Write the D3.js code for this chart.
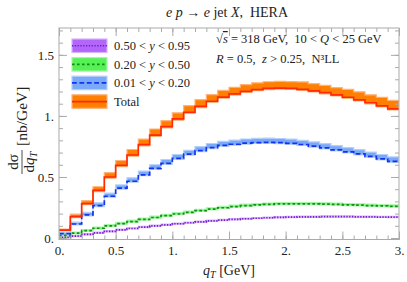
<!DOCTYPE html>
<html>
<head>
<meta charset="utf-8">
<script src="https://cdn.jsdelivr.net/npm/d3@7"></script>
<style>
  body { margin: 0; background: #fff; }
  svg { display: block; }
  text { font-family: "Liberation Serif", "DejaVu Serif", serif; fill: #222; white-space: pre; }
</style>
</head>
<body>
<div id="chart"></div>
<script>
// lower edges of the q_T bins (GeV), last bin ends at 3.0
var qtBins = [0, 0.1, 0.2, 0.3, 0.4, 0.5, 0.6, 0.7, 0.8, 0.9, 1.0, 1.1, 1.2, 1.3, 1.4,
              1.5, 1.6, 1.7, 1.8, 1.9, 2.0, 2.1, 2.2, 2.3, 2.4, 2.5, 2.6, 2.7, 2.8, 2.9];
var qtEnd = 3.0;

// 0.50 < y < 0.95
var purpleVal = [0.006, 0.015, 0.03, 0.042, 0.055, 0.067, 0.078, 0.089, 0.099, 0.108, 0.117, 0.125, 0.133, 0.14, 0.147,
                 0.153, 0.158, 0.162, 0.166, 0.169, 0.171, 0.173, 0.174, 0.175, 0.175, 0.175, 0.174, 0.173, 0.172, 0.171];
var purpleHi  = [0.011, 0.021, 0.036, 0.048, 0.061, 0.073, 0.084, 0.095, 0.105, 0.114, 0.123, 0.131, 0.139, 0.146, 0.153,
                 0.159, 0.164, 0.168, 0.172, 0.175, 0.177, 0.179, 0.18, 0.181, 0.181, 0.181, 0.18, 0.179, 0.178, 0.177];
var purpleLo  = [0.002, 0.011, 0.026, 0.038, 0.051, 0.063, 0.074, 0.085, 0.095, 0.104, 0.113, 0.121, 0.129, 0.136, 0.143,
                 0.149, 0.154, 0.158, 0.162, 0.165, 0.167, 0.169, 0.17, 0.171, 0.171, 0.171, 0.17, 0.169, 0.168, 0.167];

// 0.20 < y < 0.50
var greenVal = [0.022, 0.04, 0.06, 0.08, 0.1, 0.118, 0.135, 0.152, 0.168, 0.183, 0.197, 0.21, 0.224, 0.236, 0.248,
                0.258, 0.266, 0.272, 0.276, 0.279, 0.28, 0.28, 0.279, 0.277, 0.275, 0.272, 0.269, 0.266, 0.263, 0.26];
var greenHi  = [0.028, 0.048, 0.069, 0.09, 0.11, 0.129, 0.146, 0.163, 0.179, 0.194, 0.208, 0.221, 0.235, 0.247, 0.259,
                0.269, 0.277, 0.283, 0.287, 0.29, 0.291, 0.291, 0.29, 0.288, 0.286, 0.283, 0.28, 0.277, 0.274, 0.271];
var greenLo  = [0.016, 0.034, 0.054, 0.074, 0.094, 0.112, 0.129, 0.146, 0.162, 0.177, 0.191, 0.204, 0.218, 0.23, 0.242,
                0.252, 0.26, 0.266, 0.27, 0.273, 0.274, 0.274, 0.273, 0.271, 0.269, 0.266, 0.263, 0.26, 0.257, 0.254];

// 0.01 < y < 0.20
var blueVal = [0.036, 0.115, 0.19, 0.265, 0.342, 0.408, 0.465, 0.518, 0.57, 0.612, 0.652, 0.687, 0.716, 0.741, 0.758,
               0.768, 0.777, 0.782, 0.784, 0.781, 0.776, 0.766, 0.752, 0.738, 0.722, 0.706, 0.689, 0.668, 0.648, 0.628];
var blueHi  = [0.044, 0.13, 0.21, 0.288, 0.367, 0.435, 0.493, 0.548, 0.6, 0.643, 0.684, 0.719, 0.749, 0.774, 0.791,
               0.802, 0.811, 0.816, 0.818, 0.815, 0.81, 0.8, 0.787, 0.773, 0.757, 0.741, 0.724, 0.704, 0.684, 0.664];
var blueLo  = [0.028, 0.107, 0.182, 0.257, 0.334, 0.4, 0.457, 0.51, 0.562, 0.604, 0.644, 0.679, 0.708, 0.733, 0.75,
               0.76, 0.769, 0.774, 0.776, 0.773, 0.768, 0.758, 0.744, 0.73, 0.714, 0.698, 0.681, 0.66, 0.64, 0.62];

// Total
var totalVal = [0.064, 0.175, 0.282, 0.39, 0.5, 0.595, 0.68, 0.765, 0.843, 0.912, 0.975, 1.03, 1.078, 1.12, 1.154,
                1.18, 1.201, 1.216, 1.225, 1.228, 1.226, 1.218, 1.205, 1.19, 1.172, 1.153, 1.132, 1.108, 1.083, 1.058];
var totalHi  = [0.074, 0.195, 0.307, 0.42, 0.535, 0.635, 0.725, 0.81, 0.893, 0.962, 1.025, 1.085, 1.133, 1.175, 1.209,
                1.235, 1.256, 1.271, 1.28, 1.283, 1.281, 1.278, 1.265, 1.25, 1.232, 1.218, 1.197, 1.173, 1.153, 1.128];
var totalLo  = [0.058, 0.167, 0.273, 0.38, 0.49, 0.585, 0.67, 0.755, 0.833, 0.902, 0.965, 1.02, 1.068, 1.11, 1.145,
                1.171, 1.192, 1.207, 1.216, 1.219, 1.217, 1.209, 1.196, 1.181, 1.163, 1.144, 1.123, 1.099, 1.074, 1.049];

var xMajor = [0, 0.5, 1, 1.5, 2, 2.5, 3];
var yMajor = [0, 0.5, 1, 1.5];

(function () {
    "use strict";

    var width = 407, height = 282;
    var plotLeft = 59, plotRight = 399, plotTop = 28, plotBottom = 239.5;

    var svg = d3.select('#chart').append('svg')
        .attr('width', width)
        .attr('height', height);

    var x = d3.scaleLinear().domain([0, 3]).range([plotLeft, plotRight]);
    var y = d3.scaleLinear().domain([-0.012, 1.72]).range([plotBottom, plotTop]);

    svg.append('defs').append('clipPath').attr('id', 'plotclip')
        .append('rect')
        .attr('x', plotLeft).attr('y', plotTop)
        .attr('width', plotRight - plotLeft).attr('height', plotBottom - plotTop);

    /** turn a list of bin values into step points, closing at the last edge */
    function steps(vals) {
        var pts = qtBins.map(function (q, i) { return [q, vals[i]]; });
        pts.push([qtEnd, vals[vals.length - 1]]);
        return pts;
    }

    var series = [
        { val: purpleVal, hi: purpleHi, lo: purpleLo, fill: '#b266fa', edge: '#d9b3fc', line: '#7518cc', dash: '1.3,1.5', lw: 1.7 },
        { val: greenVal,  hi: greenHi,  lo: greenLo,  fill: '#55f255', edge: '#a5f8a5', line: '#138c18', dash: '2.6,2.4', lw: 1.7 },
        { val: blueVal,   hi: blueHi,   lo: blueLo,   fill: '#7aa9f8', edge: '#b5d0fb', line: '#1234f2', dash: '4.8,2.6', lw: 1.7 },
        { val: totalVal,  hi: totalHi,  lo: totalLo,  fill: '#ff8000', edge: '#ffb27a', line: '#ff2a00', dash: null,      lw: 1.7 }
    ];

    var area = d3.area()
        .x(function (d) { return x(d[0]); })
        .y0(function (d) { return y(d[1]); })
        .y1(function (d) { return y(d[2]); })
        .curve(d3.curveStepAfter);

    var line = d3.line()
        .x(function (d) { return x(d[0]); })
        .y(function (d) { return y(d[1]); })
        .curve(d3.curveStepAfter);

    var plot = svg.append('g').attr('clip-path', 'url(#plotclip)');

    // bands first, then central lines on top
    series.forEach(function (s) {
        var lo = steps(s.lo), hi = steps(s.hi);
        var band = lo.map(function (p, i) { return [p[0], p[1], hi[i][1]]; });
        plot.append('path')
            .attr('d', area(band))
            .attr('fill', s.fill)
            .attr('stroke', s.edge)
            .attr('stroke-width', 1.2);
    });
    series.forEach(function (s) {
        plot.append('path')
            .attr('d', line(steps(s.val)))
            .attr('fill', 'none')
            .attr('stroke', s.line)
            .attr('stroke-width', s.lw)
            .attr('stroke-dasharray', s.dash);
    });

    // frame and ticks on all four sides (ticks point inward)
    var frameColor = '#aaaaaa';
    var xMinor = d3.range(0, 31).map(function (i) { return i / 10; });
    var yMinor = d3.range(0, 18).map(function (i) { return i / 10; })
        .filter(function (v) { return y(v) > plotTop; });

    function fmt(d) { return Number.isInteger(d) ? d + '.' : String(d); }

    function tickAxis(axis, tr, vals, size, labels) {
        var g = svg.append('g')
            .attr('transform', tr)
            .call(axis.tickValues(vals).tickSize(size).tickSizeOuter(0).tickPadding(labels ? 4 : 0)
                .tickFormat(labels ? fmt : function () { return ''; }));
        g.select('.domain').remove();
        g.selectAll('line').attr('stroke', frameColor);
        g.selectAll('text')
            .attr('font-family', '"Liberation Serif", serif')
            .attr('font-size', 13)
            .attr('fill', '#222');
        return g;
    }

    tickAxis(d3.axisBottom(x), 'translate(0,' + plotBottom + ')', xMinor, -4, false);
    tickAxis(d3.axisBottom(x), 'translate(0,' + plotBottom + ')', xMajor, -8, true)
        .selectAll('text').attr('y', 5).attr('dy', '0.8em');
    tickAxis(d3.axisTop(x), 'translate(0,' + plotTop + ')', xMinor, -4, false);
    tickAxis(d3.axisTop(x), 'translate(0,' + plotTop + ')', xMajor, -8, false);
    tickAxis(d3.axisLeft(y), 'translate(' + plotLeft + ',0)', yMinor, -4, false);
    tickAxis(d3.axisLeft(y), 'translate(' + plotLeft + ',0)', yMajor, -8, true)
        .selectAll('text').attr('x', -5);
    tickAxis(d3.axisRight(y), 'translate(' + plotRight + ',0)', yMinor, -4, false);
    tickAxis(d3.axisRight(y), 'translate(' + plotRight + ',0)', yMajor, -8, false);

    svg.append('rect')
        .attr('x', plotLeft).attr('y', plotTop)
        .attr('width', plotRight - plotLeft).attr('height', plotBottom - plotTop)
        .attr('fill', 'none')
        .attr('stroke', frameColor)
        .attr('stroke-width', 1);

    // title
    var title = svg.append('text')
        .attr('x', 227).attr('y', 17)
        .attr('text-anchor', 'middle')
        .attr('font-size', 14);
    title.append('tspan').attr('font-style', 'italic').text('e p');
    title.append('tspan').text(' → ');
    title.append('tspan').attr('font-style', 'italic').text('e');
    title.append('tspan').text(' jet ');
    title.append('tspan').attr('font-style', 'italic').text('X');
    title.append('tspan').text(',  HERA');

    // kinematics annotation
    var ann1 = svg.append('text').attr('x', 216).attr('y', 43).attr('font-size', 12.5);
    ann1.append('tspan').text('√');
    ann1.append('tspan').attr('font-style', 'italic').attr('text-decoration', 'overline').text('s');
    ann1.append('tspan').text(' = 318 GeV,  10 < ');
    ann1.append('tspan').attr('font-style', 'italic').text('Q');
    ann1.append('tspan').text(' < 25 GeV');

    var ann2 = svg.append('text').attr('x', 216).attr('y', 63).attr('font-size', 12.5);
    ann2.append('tspan').attr('font-style', 'italic').text('R');
    ann2.append('tspan').text(' = 0.5,  ');
    ann2.append('tspan').attr('font-style', 'italic').text('z');
    ann2.append('tspan').text(' > 0.25,  N³LL');

    // legend
    var legendLabels = [
        ['0.50 < ', 'y', ' < 0.95'],
        ['0.20 < ', 'y', ' < 0.50'],
        ['0.01 < ', 'y', ' < 0.20'],
        ['Total', '', '']
    ];
    var legend = svg.append('g').attr('transform', 'translate(72,39)');
    series.forEach(function (s, i) {
        var row = legend.append('g').attr('transform', 'translate(0,' + (i * 18.6) + ')');
        row.append('rect')
            .attr('x', 0).attr('y', 0)
            .attr('width', 35).attr('height', 13.5)
            .attr('fill', s.fill)
            .attr('stroke', s.edge)
            .attr('stroke-width', 1.2);
        row.append('line')
            .attr('x1', 0).attr('x2', 35)
            .attr('y1', 6.75).attr('y2', 6.75)
            .attr('stroke', s.line)
            .attr('stroke-width', s.lw)
            .attr('stroke-dasharray', s.dash);
        var t = row.append('text')
            .attr('x', 42).attr('y', 11)
            .attr('font-size', 12.5);
        t.append('tspan').text(legendLabels[i][0]);
        if (legendLabels[i][1]) {
            t.append('tspan').attr('font-style', 'italic').text(legendLabels[i][1]);
            t.append('tspan').text(legendLabels[i][2]);
        }
    });

    // x label
    var xl = svg.append('text')
        .attr('x', 229).attr('y', 275)
        .attr('text-anchor', 'middle')
        .attr('font-size', 14);
    xl.append('tspan').attr('font-style', 'italic').text('q');
    xl.append('tspan').attr('font-style', 'italic').attr('font-size', 10).attr('dy', 3).text('T');
    xl.append('tspan').attr('dy', -3).text(' [GeV]');

    // y label: fraction dσ/dq_T followed by [nb/GeV], rotated
    var yl = svg.append('g').attr('transform', 'translate(22,162) rotate(-90)');
    yl.append('text').attr('x', 0).attr('y', -4.5).attr('text-anchor', 'middle').attr('font-size', 15).text('dσ');
    var den = yl.append('text').attr('x', 0).attr('y', 11.5).attr('text-anchor', 'middle').attr('font-size', 15);
    den.append('tspan').text('d');
    den.append('tspan').attr('font-style', 'italic').text('q');
    den.append('tspan').attr('font-style', 'italic').attr('font-size', 10.5).attr('dy', 3).text('T');
    yl.append('line')
        .attr('x1', -12).attr('x2', 12)
        .attr('y1', 0).attr('y2', 0)
        .attr('stroke', '#222').attr('stroke-width', 0.8);
    yl.append('text').attr('x', 16).attr('y', 5).attr('font-size', 15.5).text('[nb/GeV]');
})();
</script>
</body>
</html>
